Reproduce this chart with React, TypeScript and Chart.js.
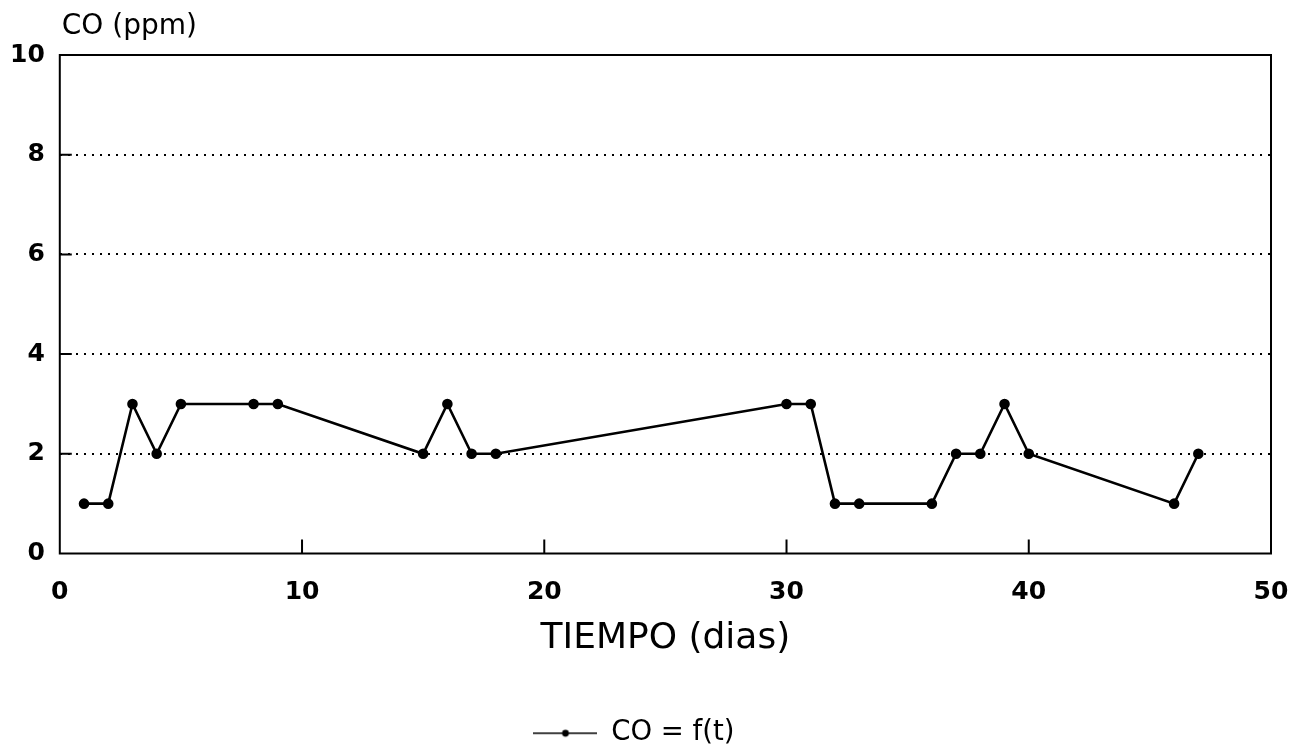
import React, { useEffect, useRef } from "react";
import { Chart, registerables } from "chart.js";

Chart.register(...registerables);

const days = [1, 2, 3, 4, 5, 8, 9, 15, 16, 17, 18, 30, 31, 32, 33, 36, 37, 38, 39, 40, 46, 47];
const coValues = [1, 1, 3, 2, 3, 3, 3, 2, 3, 2, 2, 3, 3, 1, 1, 1, 2, 2, 3, 2, 1, 2];
const xTickValues = [10, 20, 30, 40];
const yTickValues = [2, 4, 6, 8];
const seriesLabel = "CO = f(t)";
const xTitle = "TIEMPO (dias)";
const yTitle = "CO (ppm)";

const FONT = "'DejaVu Sans', 'Liberation Sans', sans-serif";
const LEGEND_SHIFT = 1;

function makeLegendSymbol() {
  const c = document.createElement("canvas");
  c.width = 64;
  c.height = 10;
  const g = c.getContext("2d")!;
  g.strokeStyle = "#000";
  g.lineWidth = 1.6;
  g.beginPath();
  g.moveTo(0, 5);
  g.lineTo(64, 5);
  g.stroke();
  g.fillStyle = "#000";
  g.beginPath();
  g.arc(32, 5, 3.4, 0, Math.PI * 2);
  g.fill();
  return c;
}

const framePlugin = {
  id: "frame",
  afterLayout(chart: any) {
    const l = chart.legend;
    if (l) {
      l.left += LEGEND_SHIFT;
      l.right += LEGEND_SHIFT;
    }
  },
  beforeDatasetsDraw(chart: any) {
    const { ctx, chartArea } = chart;
    const { left, right, top, bottom } = chartArea;
    const xs = chart.scales.x;
    const ys = chart.scales.y;
    ctx.save();
    ctx.strokeStyle = "#000";
    ctx.lineWidth = 2;
    ctx.strokeRect(left, top, right - left, bottom - top);
    ctx.beginPath();
    for (const v of xTickValues) {
      const px = xs.getPixelForValue(v);
      ctx.moveTo(px, bottom);
      ctx.lineTo(px, bottom - 14);
    }
    for (const v of yTickValues) {
      const py = ys.getPixelForValue(v);
      ctx.moveTo(left, py);
      ctx.lineTo(left + 12, py);
    }
    ctx.stroke();
    ctx.restore();
  },
  afterDraw(chart: any) {
    const { ctx, chartArea } = chart;
    ctx.save();
    ctx.fillStyle = "#000";
    ctx.font = `28px ${FONT}`;
    ctx.textBaseline = "alphabetic";
    ctx.textAlign = "left";
    ctx.fillText(yTitle, chartArea.left + 2, 34);
    ctx.restore();
  },
};

export default function App() {
  const ref = useRef<HTMLCanvasElement>(null);
  useEffect(() => {
    const chart = new Chart(ref.current!, {
      type: "scatter",
      data: {
        datasets: [
          {
            label: seriesLabel,
            data: days.map((d, i) => ({ x: d, y: coValues[i] })),
            showLine: true,
            borderColor: "#000",
            backgroundColor: "#000",
            borderWidth: 2.6,
            pointRadius: 4,
            pointHoverRadius: 4,
            pointStyle: "circle",
          },
        ],
      },
      options: {
        animation: false,
        responsive: false,
        devicePixelRatio: 1,
        layout: { padding: { top: 55, left: -5, right: 24, bottom: -1 } },
        plugins: {
          tooltip: { enabled: false },
          legend: {
            position: "bottom",
            labels: {
              usePointStyle: true,
              pointStyleWidth: 64,
              color: "#000",
              font: { family: FONT, size: 27.5 },
              padding: 14,
              generateLabels: () => [
                {
                  text: seriesLabel,
                  pointStyle: makeLegendSymbol(),
                  fillStyle: "#000",
                  strokeStyle: "#000",
                  lineWidth: 0,
                  hidden: false,
                  datasetIndex: 0,
                  fontColor: "#000",
                },
              ],
            },
          },
        },
        scales: {
          x: {
            type: "linear",
            min: 0,
            max: 50,
            ticks: {
              stepSize: 10,
              color: "#000",
              font: { family: FONT, size: 25, weight: "bold" },
              padding: 0,
            },
            grid: { display: false, drawTicks: true, tickLength: 24 },
            border: { display: false },
            title: {
              display: true,
              text: xTitle,
              color: "#000",
              font: { family: FONT, size: 36, lineHeight: 1 },
              padding: { top: 13, bottom: 49 },
            },
          },
          y: {
            type: "linear",
            min: 0,
            max: 10,
            ticks: {
              stepSize: 2,
              color: "#000",
              font: { family: FONT, size: 25, weight: "bold" },
              padding: 15,
            },
            grid: {
              drawTicks: false,
              lineWidth: 2,
              color: (c: any) =>
                c.tick && (c.tick.value === 0 || c.tick.value === 10) ? "rgba(0,0,0,0)" : "#000",
            },
            border: { display: false, dash: [2, 6] },
          },
        },
      },
      plugins: [framePlugin],
    });
    return () => chart.destroy();
  }, []);
  return (
    <div style={{ position: "absolute", left: 0, top: 0, width: 1295, height: 756, background: "#fff" }}>
      <canvas ref={ref} width={1295} height={756} style={{ display: "block" }} />
    </div>
  );
}
